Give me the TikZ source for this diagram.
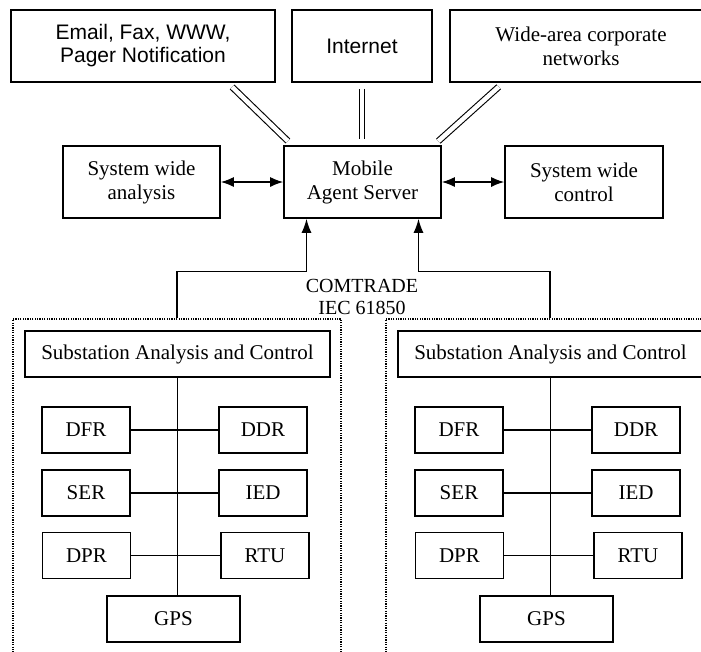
\documentclass[tikz,border=0pt]{standalone}
\usepackage{fontspec}
\setmainfont{Liberation Serif}
\setsansfont{Liberation Sans}
\usetikzlibrary{arrows.meta}
\tikzstyle{unitbox} = [draw=black, line width=1.6pt, rectangle, inner sep=0pt,
    align=center, font=\fontsize{21}{24}\selectfont]
\tikzstyle{netbox} = [unitbox, minimum height=72pt, font=\sffamily\fontsize{21}{23}\selectfont]
\tikzstyle{agentbox} = [unitbox, minimum width=157pt, minimum height=72pt]
\tikzstyle{devbox} = [unitbox, minimum width=88pt, minimum height=46pt]
\tikzstyle{sitebox} = [draw=black, line width=1.2pt, dash pattern=on 1.2pt off 1.2pt,
    minimum width=328pt, minimum height=346pt, inner sep=0pt]
\tikzstyle{dbl} = [double, double distance=4.5pt, line width=1.1pt, shorten >=6pt, shorten <=6pt]
\tikzstyle{bus} = [line width=1.4pt]
\tikzstyle{feed} = [line width=1.4pt, -{Latex[length=14pt,width=10pt]}]
\tikzstyle{link} = [line width=1.4pt, {Latex[length=13pt,width=10pt]}-{Latex[length=13pt,width=10pt]}]

\begin{document}
\begin{tikzpicture}[x=1pt, y=-1pt]
                \useasboundingbox (0,0) rectangle (701,651);
                \clip (0,0) rectangle (701,651);
                \node [netbox, minimum width=264pt] (notify) at (143,46) {Email, Fax, WWW,\\Pager Notification};
                \node [netbox, minimum width=140pt] (internet) at (362,46) {Internet};
                \node [unitbox, minimum width=262pt, minimum height=72pt] (wan) at (581,46) {Wide-area corporate\\networks};
                \node [agentbox] (analysis) at (141.5,182) {System wide\\analysis};
                \node [agentbox] (mas) at (362.5,182) {Mobile\\Agent Server};
                \node [agentbox, minimum width=158pt] (control) at (584,182) {System wide\\control};
                \draw [dbl] ([xshift=-48pt]notify.south east) -- ([xshift=9pt]mas.north west);
                \draw [dbl] (internet.south) -- (internet.south |- mas.north);
                \draw [dbl] ([xshift=54pt]wan.south west) -- ([xshift=-8pt]mas.north east);
                \draw [link] (analysis) -- (mas);
                \draw [link] (mas) -- (control);
                \foreach \i/\dx in {1/0, 2/373} {
                    \node [sitebox] (site\i) at (177+\dx,492) {};
                    \node [unitbox, minimum width=305pt, minimum height=46pt] (sub\i) at (177.5+\dx,354) {Substation Analysis and Control};
                    \node [devbox] (dfr\i) at (86+\dx,430) {DFR};
                    \node [devbox] (ddr\i) at (263+\dx,430) {DDR};
                    \node [devbox] (ser\i) at (86+\dx,493) {SER};
                    \node [devbox] (ied\i) at (263+\dx,493) {IED};
                    \node [devbox] (dpr\i) at (86.5+\dx,555.5) {DPR};
                    \node [devbox] (rtu\i) at (265+\dx,555.5) {RTU};
                    \node [devbox, minimum width=133pt] (gps\i) at (173.5+\dx,619) {GPS};
                    \draw [bus] (sub\i.south) -- (sub\i.south |- gps\i.north);
                    \draw [bus] (dfr\i) -- (ddr\i);
                    \draw [bus] (ser\i) -- (ied\i);
                    \draw [bus] (dpr\i) -- (rtu\i);
                }
                \draw [feed] (site1.north) -- ++(0,-47) -| ([xshift=-56pt]mas.south);
                \draw [feed] (site2.north) -- ++(0,-47) -| ([xshift=56pt]mas.south);
                \node [align=center, font=\fontsize{20}{22}\selectfont] (fmt) at (362,297) {COMTRADE\\IEC 61850};
            \end{tikzpicture}
\end{document}
